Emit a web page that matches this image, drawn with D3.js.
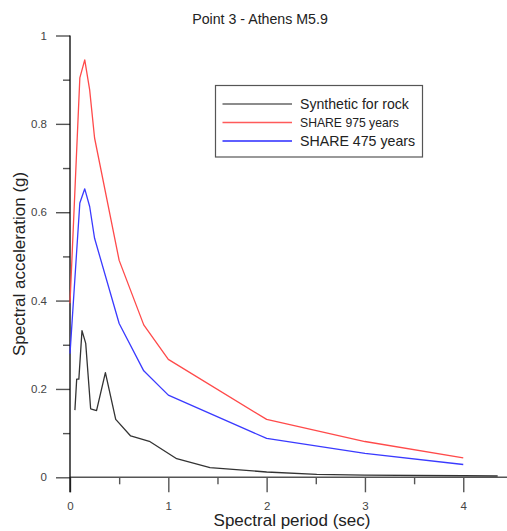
<!DOCTYPE html>
<html>
<head>
<meta charset="utf-8">
<script src="https://cdn.jsdelivr.net/npm/d3@7"></script>
<style>
  html, body { margin: 0; padding: 0; background: #fff; }
  svg { display: block; font-family: "Liberation Sans", Arial, sans-serif; }
</style>
</head>
<body>
<svg id="chart" width="507" height="531"></svg>
<script>
// Response spectra: spectral period (sec) vs spectral acceleration (g)
const chartTitle = "Point 3 - Athens M5.9";

const syntheticPeriods = [0.05, 0.068, 0.09, 0.122, 0.16, 0.21, 0.27, 0.36, 0.465, 0.617, 0.807, 1.085, 1.424, 2.0, 2.51, 3.0, 4.0, 4.35];
const syntheticValues  = [0.152, 0.222, 0.222, 0.332, 0.303, 0.155, 0.151, 0.237, 0.131, 0.0935, 0.0815, 0.042, 0.022, 0.012, 0.0068, 0.005, 0.0035, 0.003];

const sharePeriods = [0, 0.1, 0.15, 0.2, 0.25, 0.5, 0.75, 1, 2, 3, 4];
const share975 = [0.394, 0.904, 0.945, 0.877, 0.768, 0.491, 0.345, 0.267, 0.131, 0.081, 0.044];
const share475 = [0.28, 0.621, 0.653, 0.613, 0.541, 0.348, 0.241, 0.186, 0.088, 0.054, 0.029];

const xMajorTicks = [0, 1, 2, 3, 4];
const xMinorTicks = [0.5, 1.5, 2.5, 3.5];
const yMajorTicks = [0, 0.2, 0.4, 0.6, 0.8, 1];
const yMinorTicks = [0.1, 0.3, 0.5, 0.7, 0.9];

const seriesNames = ["Synthetic for rock", "SHARE 975 years", "SHARE 475 years"];

const svg = d3.select("#chart");

const x = d3.scaleLinear().domain([0, 4.45]).range([70, 507.5]);
const y = d3.scaleLinear().domain([0, 1]).range([477.3, 35.5]);

// Title
svg.append("text")
  .attr("x", 260).attr("y", 24)
  .attr("text-anchor", "middle")
  .attr("font-size", 14.2)
  .attr("fill", "#222")
  .text(chartTitle);

// Axes
const tickColor = "#555";
const yMajor = svg.append("g").attr("transform", `translate(${x(0)},0)`)
  .call(d3.axisLeft(y).tickValues(yMajorTicks).tickSize(14).tickPadding(9)
    .tickFormat(d => d === 0 ? "0" : d === 1 ? "1" : d3.format(".1f")(d)));
const yMinor = svg.append("g").attr("transform", `translate(${x(0)},0)`)
  .call(d3.axisLeft(y).tickValues(yMinorTicks).tickSize(7).tickFormat(""));
const xMajor = svg.append("g").attr("transform", `translate(0,${y(0)})`)
  .call(d3.axisBottom(x).tickValues(xMajorTicks).tickSize(15).tickPadding(10).tickFormat(d3.format("d")));
const xMinor = svg.append("g").attr("transform", `translate(0,${y(0)})`)
  .call(d3.axisBottom(x).tickValues(xMinorTicks).tickSize(7).tickFormat(""));

[yMajor, yMinor, xMajor, xMinor].forEach(g => {
  g.select(".domain").remove();
  g.selectAll(".tick line").attr("stroke", tickColor).attr("stroke-width", 1.4);
  g.selectAll(".tick text").attr("fill", "#444").attr("font-size", 11.5)
    .attr("font-family", "'Liberation Sans', Arial, sans-serif");
});

// X axis baseline
svg.append("line")
  .attr("x1", x(0)).attr("x2", 507)
  .attr("y1", y(0)).attr("y2", y(0))
  .attr("stroke", tickColor).attr("stroke-width", 1.4);

// Y axis line (extends below the baseline)
svg.append("line")
  .attr("x1", x(0)).attr("x2", x(0))
  .attr("y1", y(1)).attr("y2", y(0) + 15)
  .attr("stroke", "#000").attr("stroke-width", 1.3);

// Axis labels
svg.append("text")
  .attr("transform", `translate(25,${(y(1) + y(0) + 15) / 2}) rotate(-90)`)
  .attr("text-anchor", "middle")
  .attr("font-size", 17)
  .attr("fill", "#222")
  .text("Spectral acceleration (g)");

svg.append("text")
  .attr("x", 292).attr("y", 526)
  .attr("text-anchor", "middle")
  .attr("font-size", 17)
  .attr("fill", "#222")
  .text("Spectral period (sec)");

// Curves
const line = d3.line().x(d => x(d[0])).y(d => y(d[1]));
const series = [
  { pts: d3.zip(syntheticPeriods, syntheticValues), color: "#333" },
  { pts: d3.zip(sharePeriods, share975), color: "#ff4a4a" },
  { pts: d3.zip(sharePeriods, share475), color: "#3a3aff" }
];
series.forEach(s => {
  svg.append("path")
    .attr("d", line(s.pts))
    .attr("fill", "none")
    .attr("stroke", s.color)
    .attr("stroke-width", 1.3)
    .attr("stroke-linejoin", "round");
});

// Legend
const legend = svg.append("g");
legend.append("rect")
  .attr("x", 215.5).attr("y", 85.5)
  .attr("width", 207).attr("height", 71.5)
  .attr("fill", "#fff").attr("stroke", "#555").attr("stroke-width", 1.2);

const legendColors = ["#666", "#ff5a5a", "#2a2aff"];
const legendRows = [104, 122.5, 141];
const legendSizes = [14.1, 12.2, 14.2];
seriesNames.forEach((name, i) => {
  legend.append("line")
    .attr("x1", 222.5).attr("x2", 292)
    .attr("y1", legendRows[i]).attr("y2", legendRows[i])
    .attr("stroke", legendColors[i]).attr("stroke-width", 1.3);
  legend.append("text")
    .attr("x", 300).attr("y", legendRows[i])
    .attr("dy", "0.36em")
    .attr("font-size", legendSizes[i])
    .attr("fill", "#222")
    .text(name);
});
</script>
</body>
</html>
